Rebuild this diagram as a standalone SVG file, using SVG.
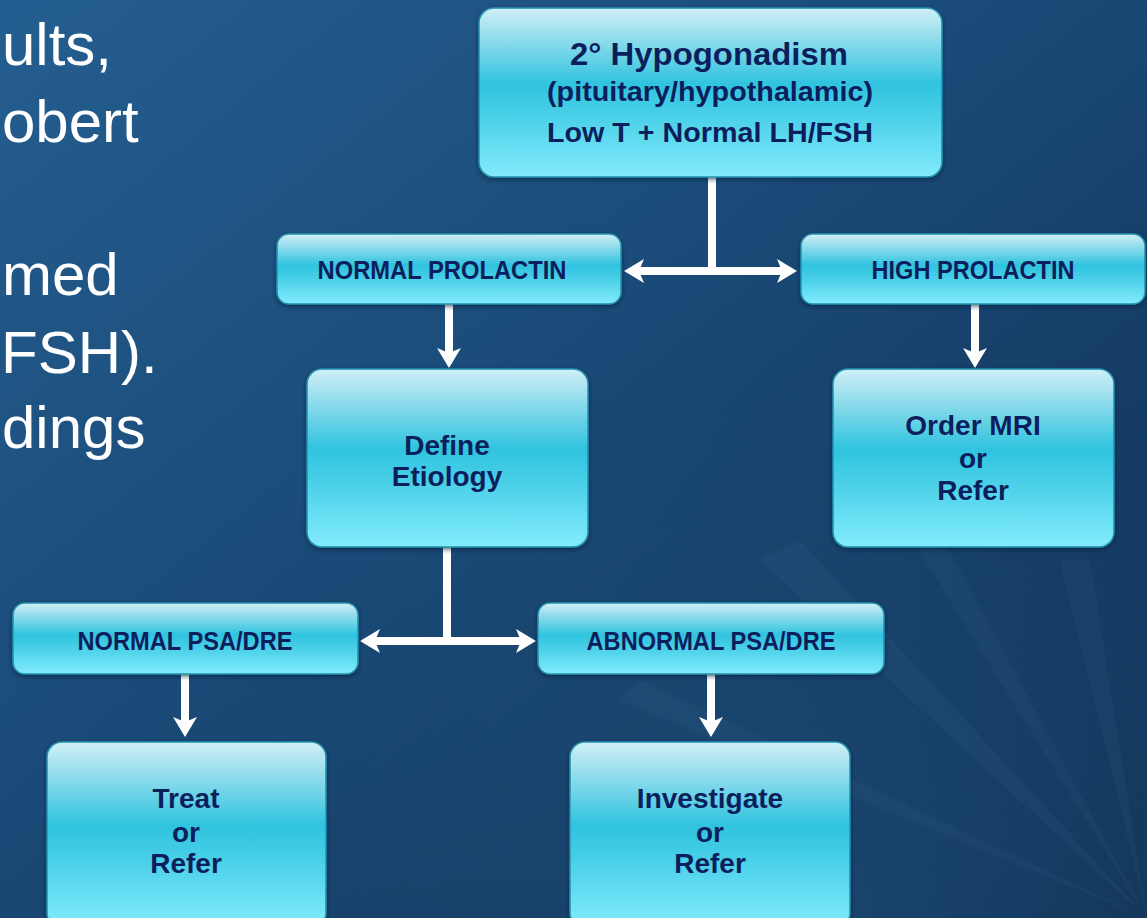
<svg xmlns="http://www.w3.org/2000/svg" width="1147" height="918" viewBox="0 0 1147 918">
  <defs>
    <linearGradient id="bg" x1="0" y1="0" x2="1" y2="1">
      <stop offset="0" stop-color="#245e90"/>
      <stop offset="0.45" stop-color="#1a4a77"/>
      <stop offset="1" stop-color="#0f2c50"/>
    </linearGradient>
    <radialGradient id="glow" cx="0.75" cy="1" r="0.6">
      <stop offset="0" stop-color="#2a6a96" stop-opacity="0.3"/>
      <stop offset="1" stop-color="#2a6a96" stop-opacity="0"/>
    </radialGradient>
    <linearGradient id="box" x1="0" y1="0" x2="0" y2="1">
      <stop offset="0" stop-color="#d0f0f7"/>
      <stop offset="0.12" stop-color="#a6e2ef"/>
      <stop offset="0.45" stop-color="#2fc3df"/>
      <stop offset="0.6" stop-color="#44cde6"/>
      <stop offset="1" stop-color="#82ebfc"/>
    </linearGradient>
    <filter id="sh" x="-10%" y="-10%" width="120%" height="130%">
      <feDropShadow dx="0" dy="2" stdDeviation="2" flood-color="#061a33" flood-opacity="0.6"/>
    </filter>
    <marker id="ah" viewBox="0 -12 20 24" markerWidth="20" markerHeight="24" refX="5" refY="0" orient="auto-start-reverse" markerUnits="userSpaceOnUse">
      <path d="M0,-12 L20,0 L0,12 L5,0 Z" fill="#ffffff"/>
    </marker>
    <style>
      .bx { fill: url(#box); stroke: #2590ad; stroke-width: 1.5; filter: url(#sh); }
      .t { font-family: "Liberation Sans", Arial, sans-serif; font-weight: bold; fill: #0c1f5c; text-anchor: middle; }
      .lbl { font-size: 26px; }
      .body { font-size: 28px; }
      .side { font-family: "Liberation Sans", Arial, sans-serif; font-size: 60px; fill: #ffffff; }
      .cn { stroke: #ffffff; stroke-width: 8; fill: none; }
    </style>
  </defs>

  <rect x="0" y="0" width="1147" height="918" fill="url(#bg)"/>
  <rect x="0" y="0" width="1147" height="918" fill="url(#glow)"/>
  <g opacity="0.035" fill="#9fd4f0">
    <polygon points="1147,918 760,560 800,540"/>
    <polygon points="1147,918 900,520 930,515"/>
    <polygon points="1147,918 620,700 640,680"/>
    <polygon points="1147,918 1060,560 1090,560"/>
  </g>

  <g id="side-text">
    <text class="side" x="2" y="65">ults,</text>
    <text class="side" x="2" y="142">obert</text>
    <text class="side" x="2" y="295">med</text>
    <text class="side" x="1" y="373">FSH).</text>
    <text class="side" x="2" y="448">dings</text>
  </g>

  <g id="connectors">
    <path class="cn" d="M712,176 V271"/>
    <path class="cn" d="M639,271 H782" marker-start="url(#ah)" marker-end="url(#ah)"/>
    <path class="cn" d="M449,303 V353" marker-end="url(#ah)"/>
    <path class="cn" d="M975,303 V353" marker-end="url(#ah)"/>
    <path class="cn" d="M447,546 V641"/>
    <path class="cn" d="M375,641 H521" marker-start="url(#ah)" marker-end="url(#ah)"/>
    <path class="cn" d="M185,673 V722" marker-end="url(#ah)"/>
    <path class="cn" d="M711,673 V722" marker-end="url(#ah)"/>
  </g>

  <g id="n-hypogonadism">
    <rect class="bx" x="479" y="8" width="463" height="169" rx="15"/>
    <text class="t" x="709" y="65" font-size="31" textLength="278" lengthAdjust="spacingAndGlyphs">2° Hypogonadism</text>
    <text class="t" x="710" y="101" font-size="27" textLength="326" lengthAdjust="spacingAndGlyphs">(pituitary/hypothalamic)</text>
    <text class="t" x="710" y="142" font-size="27" textLength="326" lengthAdjust="spacingAndGlyphs">Low T + Normal LH/FSH</text>
  </g>

  <g id="n-normal-prolactin">
    <rect class="bx" x="277" y="234" width="344" height="70" rx="12"/>
    <text class="t lbl" x="442" y="279" textLength="249" lengthAdjust="spacingAndGlyphs">NORMAL PROLACTIN</text>
  </g>

  <g id="n-high-prolactin">
    <rect class="bx" x="801" y="234" width="344" height="70" rx="12"/>
    <text class="t lbl" x="973" y="279" textLength="203" lengthAdjust="spacingAndGlyphs">HIGH PROLACTIN</text>
  </g>

  <g id="n-define-etiology">
    <rect class="bx" x="307" y="369" width="281" height="178" rx="15"/>
    <text class="t body" x="447" y="455">Define</text>
    <text class="t body" x="447" y="486">Etiology</text>
  </g>

  <g id="n-order-mri">
    <rect class="bx" x="833" y="369" width="281" height="178" rx="15"/>
    <text class="t body" x="973" y="435">Order MRI</text>
    <text class="t body" x="973" y="468">or</text>
    <text class="t body" x="973" y="500">Refer</text>
  </g>

  <g id="n-normal-psa">
    <rect class="bx" x="13" y="603" width="345" height="71" rx="12"/>
    <text class="t lbl" x="185" y="650" textLength="215" lengthAdjust="spacingAndGlyphs">NORMAL PSA/DRE</text>
  </g>

  <g id="n-abnormal-psa">
    <rect class="bx" x="538" y="603" width="346" height="71" rx="12"/>
    <text class="t lbl" x="711" y="650" textLength="249" lengthAdjust="spacingAndGlyphs">ABNORMAL PSA/DRE</text>
  </g>

  <g id="n-treat">
    <rect class="bx" x="47" y="742" width="279" height="186" rx="15"/>
    <text class="t body" x="186" y="808">Treat</text>
    <text class="t body" x="186" y="842">or</text>
    <text class="t body" x="186" y="873">Refer</text>
  </g>

  <g id="n-investigate">
    <rect class="bx" x="570" y="742" width="280" height="186" rx="15"/>
    <text class="t body" x="710" y="808">Investigate</text>
    <text class="t body" x="710" y="842">or</text>
    <text class="t body" x="710" y="873">Refer</text>
  </g>
</svg>
